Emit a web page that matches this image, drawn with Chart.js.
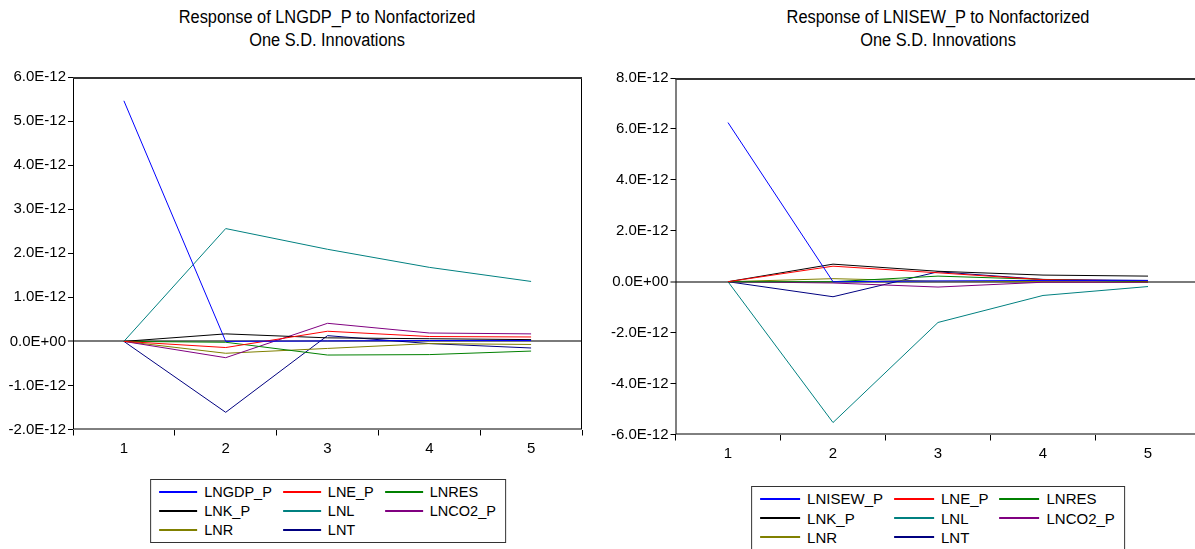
<!DOCTYPE html>
<html>
<head>
<meta charset="utf-8">
<script src="https://cdn.jsdelivr.net/npm/chart.js@4.4.1/dist/chart.umd.min.js"></script>
<style>
  html, body { margin: 0; padding: 0; background: #fff; width: 1195px; height: 549px; overflow: hidden; position: relative; }
  canvas { position: absolute; top: 0; }
  .title {
    position: absolute; top: 6px; transform: translateX(-50%) scaleX(0.91);
    text-align: center; white-space: nowrap; color: #000;
    font-family: "Liberation Sans", Arial, sans-serif;
    font-size: 18px; line-height: 23px;
  }
  .legend {
    position: absolute; transform: translateX(-50%);
    border: 1px solid #333; background: #fff;
    display: grid; grid-template-columns: auto auto auto; column-gap: 11px;
    padding: 2px 9px 2px 8px;
    font-family: "Liberation Sans", Arial, sans-serif; color: #000;
  }
  .legend .item { display: flex; align-items: center; height: 19.4px; white-space: nowrap; }
  .legend .swatch { height: 2px; margin-right: 7px; }
</style>
</head>
<body>
<div class="title" id="title-left" style="left:327px">Response of LNGDP_P to Nonfactorized<br>One S.D. Innovations</div>
<div class="title" id="title-right" style="left:938px">Response of LNISEW_P to Nonfactorized<br>One S.D. Innovations</div>
<canvas id="chart-left" width="600" height="470" style="left:0px"></canvas>
<canvas id="chart-right" width="620" height="470" style="left:600px"></canvas>
<div class="legend" id="legend-left" style="left:328px; top:479px; font-size:14.5px"></div>
<div class="legend" id="legend-right" style="left:938px; top:486px; font-size:15px; column-gap:11px"></div>
<script>
// periods after the shock
const periods = ['1', '2', '3', '4', '5'];

// shocks (same order in both panels, first one is the response variable itself)
const leftNames = ['LNGDP_P', 'LNE_P', 'LNRES', 'LNK_P', 'LNL', 'LNCO2_P', 'LNR', 'LNT'];
const rightNames = ['LNISEW_P', 'LNE_P', 'LNRES', 'LNK_P', 'LNL', 'LNCO2_P', 'LNR', 'LNT'];
const lineColors = ['#0000FF', '#FF0000', '#008000', '#000000', '#008080', '#800080', '#808000', '#000080'];

// Response of LNGDP_P (values in units of 1E-12)
const gdpOwn   = [5.46, 0.00, 0.01, 0.02, 0.02];
const gdpLNE   = [0, -0.14, 0.23, 0.11, 0.10];
const gdpLNRES = [0, -0.02, -0.31, -0.30, -0.22];
const gdpLNK   = [0, 0.17, 0.08, 0.06, 0.04];
const gdpLNL   = [0, 2.56, 2.09, 1.68, 1.36];
const gdpLNCO2 = [0, -0.37, 0.41, 0.19, 0.17];
const gdpLNR   = [0, -0.27, -0.16, -0.05, -0.07];
const gdpLNT   = [0, -1.61, 0.13, -0.05, -0.15];

// Response of LNISEW_P (values in units of 1E-12)
const isewOwn   = [6.25, 0.00, 0.03, 0.05, 0.05];
const isewLNE   = [0, 0.61, 0.35, 0.08, 0.03];
const isewLNRES = [0, 0.00, 0.22, 0.09, 0.00];
const isewLNK   = [0, 0.69, 0.41, 0.26, 0.22];
const isewLNL   = [0, -5.53, -1.60, -0.54, -0.19];
const isewLNCO2 = [0, -0.05, -0.21, -0.02, -0.02];
const isewLNR   = [0, 0.12, 0.02, 0.00, -0.03];
const isewLNT   = [0, -0.59, 0.39, 0.09, 0.05];

// y axis ticks
const leftYTicks = [-2, -1, 0, 1, 2, 3, 4, 5, 6];
const rightYTicks = [-6, -4, -2, 0, 2, 4, 6, 8];

const tickFont = { family: '"Liberation Sans", Arial, sans-serif', size: 15 };

// 6 -> "6.0E-12", 0 -> "0.0E+00"
const formatTick = (v) => Math.abs(v) < 1e-9 ? '0.0E+00' : v.toFixed(1) + 'E-12';

// plot frame, top edge a bit heavier like the original
const framePlugin = {
    id: 'frame',
    afterDatasetsDraw(chart) {
        const { ctx, chartArea: a } = chart;
        ctx.save();
        ctx.strokeStyle = '#000';
        ctx.lineWidth = 1;
        ctx.strokeRect(a.left + 0.5, a.top + 0.5, a.right - a.left - 1, a.bottom - a.top - 1);
        ctx.strokeStyle = '#333';
        ctx.lineWidth = 2;
        ctx.beginPath();
        ctx.moveTo(a.left, a.top + 1);
        ctx.lineTo(a.right, a.top + 1);
        ctx.stroke();
        ctx.restore();
    }
};

const makeChart = (canvasId, names, series, yTicks, yWidth, padding) => {
    const ctx = document.getElementById(canvasId).getContext('2d');
    return new Chart(ctx, {
        type: 'line',
        data: {
            labels: periods,
            datasets: names.map((name, i) => ({
                label: name,
                data: series[i],
                borderColor: lineColors[i],
                backgroundColor: lineColors[i],
                borderWidth: 1,
                pointRadius: 0,
                tension: 0,
                fill: false
            }))
        },
        options: {
            responsive: false,
            animation: false,
            layout: { padding: padding },
            plugins: { legend: { display: false }, title: { display: false }, tooltip: { enabled: false } },
            scales: {
                x: {
                    type: 'category',
                    offset: true,
                    border: { display: false },
                    grid: { offset: true, drawOnChartArea: false, tickLength: 6, tickColor: '#000', tickWidth: 1 },
                    ticks: { color: '#000', font: tickFont, padding: 4, maxRotation: 0 },
                    afterFit: (s) => { s.height = 30; }
                },
                y: {
                    min: yTicks[0],
                    max: yTicks[yTicks.length - 1],
                    border: { display: false },
                    afterBuildTicks: (s) => { s.ticks = yTicks.map(v => ({ value: v })); },
                    grid: {
                        color: (c) => (c.tick && c.tick.value === 0) ? '#7a7a7a' : 'rgba(0,0,0,0)',
                        lineWidth: (c) => (c.tick && c.tick.value === 0) ? 2 : 1,
                        tickLength: 5, tickColor: '#000', tickWidth: 1
                    },
                    ticks: { color: '#000', font: tickFont, padding: 2, callback: formatTick },
                    afterFit: (s) => { s.width = yWidth; }
                }
            }
        },
        plugins: [framePlugin]
    });
};

// Legend laid out as a 3-column grid under each panel
const buildLegend = (elId, names, swatchWidth) => {
    const box = document.getElementById(elId);
    names.forEach((name, i) => {
        const item = document.createElement('div');
        item.className = 'item';
        item.innerHTML = `<span class="swatch" style="width:${swatchWidth}px;background:${lineColors[i]}"></span><span>${name}</span>`;
        box.appendChild(item);
    });
};

makeChart('chart-left', leftNames,
    [gdpOwn, gdpLNE, gdpLNRES, gdpLNK, gdpLNL, gdpLNCO2, gdpLNR, gdpLNT],
    leftYTicks, 73, { top: 77, right: 18, bottom: 10.5, left: 0 });

makeChart('chart-right', rightNames,
    [isewOwn, isewLNE, isewLNRES, isewLNK, isewLNL, isewLNCO2, isewLNR, isewLNT],
    rightYTicks, 75.5, { top: 78, right: 19.5, bottom: 5.5, left: 0 });

buildLegend('legend-left', leftNames, 38);
buildLegend('legend-right', rightNames, 40);
</script>
</body>
</html>
